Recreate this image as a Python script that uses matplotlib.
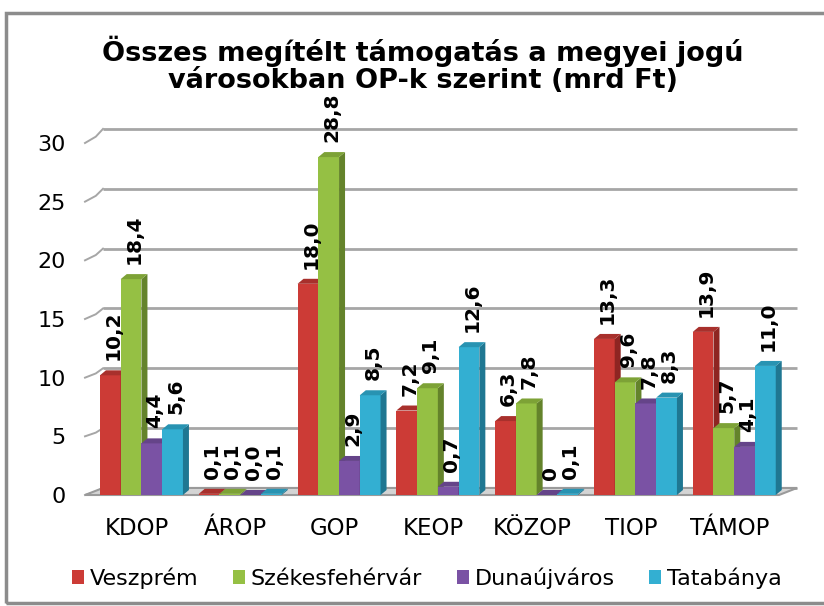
import matplotlib
matplotlib.use("Agg")
import matplotlib.pyplot as plt
from matplotlib.patches import Polygon, Patch, Rectangle

# Adatok (mrd Ft)
categories = ["KDOP", "ÁROP", "GOP", "KEOP", "KÖZOP", "TIOP", "TÁMOP"]
cities = ["Veszprém", "Székesfehérvár", "Dunaújváros", "Tatabánya"]
veszprem = [10.2, 0.1, 18.0, 7.2, 6.3, 13.3, 13.9]
szekesfehervar = [18.4, 0.1, 28.8, 9.1, 7.8, 9.6, 5.7]
dunaujvaros = [4.4, 0.0, 2.9, 0.7, 0.0, 7.8, 4.1]
tatabanya = [5.6, 0.1, 8.5, 12.6, 0.1, 8.3, 11.0]
labels_veszprem = ["10,2", "0,1", "18,0", "7,2", "6,3", "13,3", "13,9"]
labels_szekesfehervar = ["18,4", "0,1", "28,8", "9,1", "7,8", "9,6", "5,7"]
labels_dunaujvaros = ["4,4", "0,0", "2,9", "0,7", "0", "7,8", "4,1"]
labels_tatabanya = ["5,6", "0,1", "8,5", "12,6", "0,1", "8,3", "11,0"]
yticks = [0, 5, 10, 15, 20, 25, 30]

series = [veszprem, szekesfehervar, dunaujvaros, tatabanya]
series_labels = [labels_veszprem, labels_szekesfehervar, labels_dunaujvaros, labels_tatabanya]
front_colors = ["#CC3B36", "#95C044", "#7A52A4", "#33AFD2"]
side_colors = ["#8E2522", "#64832B", "#51356F", "#1F7792"]
top_colors = ["#A8302C", "#7DA236", "#654489", "#2893B2"]

W, H = 824, 606
fig = plt.figure(figsize=(W / 100, H / 100), dpi=100)
fig.patch.set_facecolor("white")

# keret
fig.patches.append(Rectangle((6 / W, 3 / H), 830 / W, 590 / H, transform=fig.transFigure,
                             fill=False, edgecolor="#8C8C8C", linewidth=2.5))

x_left_px, x_right_px = 85, 797
y0_px, y30_px = 495, 143
ax = fig.add_axes([x_left_px / W, 1 - y0_px / H, (x_right_px - x_left_px) / W, (y0_px - y30_px) / H])
px_x = 98.8
xmin = (x_left_px - 137) / px_x
xmax = (x_right_px - 137) / px_x
ax.set_xlim(xmin, xmax)
ax.set_ylim(0, 30)
for s in ax.spines.values():
    s.set_visible(False)

# hátfal rácsvonalai
back_dx = 18 / px_x
for t in yticks:
    yb = 0.6 + 1.02 * t
    ax.plot([xmin, xmin + back_dx * 0.6, xmin + back_dx], [t, t + 0.45 * (yb - t), yb],
            color="#A6A6A6", lw=1.4, clip_on=False, zorder=1)
    ax.plot([xmin + back_dx, xmax], [yb, yb], color="#A6A6A6", lw=2.0,
            clip_on=False, zorder=1, solid_capstyle="butt")

# padló
floor = Polygon([(xmin, 0), (xmax - back_dx, 0), (xmax, 0.6), (xmin + back_dx, 0.6)],
                closed=True, facecolor="#D4D4D4", edgecolor="#9A9A9A", lw=1.5,
                clip_on=False, zorder=2)
ax.add_patch(floor)

# 3D oszlopok
bw = 0.21
offsets = [-0.27, -0.06, 0.15, 0.36]
ddx = 6 / px_x
ddy = 5 / 11.73
for k, vals in enumerate(series):
    xs = [i + offsets[k] for i in range(len(categories))]
    ax.bar(xs, vals, width=bw, color=front_colors[k], edgecolor="none", zorder=3)
    for x, v, lab in zip(xs, vals, series_labels[k]):
        x0, x1 = x - bw / 2, x + bw / 2
        side = Polygon([(x1, 0), (x1 + ddx, ddy), (x1 + ddx, v + ddy), (x1, v)],
                       closed=True, facecolor=side_colors[k], edgecolor="none", zorder=3)
        top = Polygon([(x0, v), (x0 + ddx, v + ddy), (x1 + ddx, v + ddy), (x1, v)],
                      closed=True, facecolor=top_colors[k], edgecolor="none", zorder=3)
        ax.add_patch(side)
        ax.add_patch(top)
        ax.text(x + ddx / 2, v + ddy + 0.85, lab, rotation=90, ha="center", va="bottom",
                fontsize=14.5, fontweight="bold", color="black", zorder=5, clip_on=False)

ax.set_xticks(range(len(categories)))
ax.set_xticklabels(categories, fontsize=16.5)
ax.set_yticks(yticks)
ax.set_yticklabels([str(t) for t in yticks], fontsize=16)
ax.tick_params(axis="x", length=0, pad=16)
ax.tick_params(axis="y", length=0, pad=14)

fig.text(0.513, 0.893, "Összes megítélt támogatás a megyei jogú\nvárosokban OP-k szerint (mrd Ft)",
         ha="center", va="center", fontsize=19.5, fontweight="bold", linespacing=1.05)

handles = [Patch(facecolor=c, edgecolor="none") for c in front_colors]
fig.legend(handles, cities, loc="center", bbox_to_anchor=(0.518, 1 - 578 / H), ncol=4,
           frameon=False, fontsize=16, handlelength=0.55, handleheight=0.55,
           handletextpad=0.25, columnspacing=1.55, borderpad=0.2)

fig.savefig("out.png", dpi=100)
